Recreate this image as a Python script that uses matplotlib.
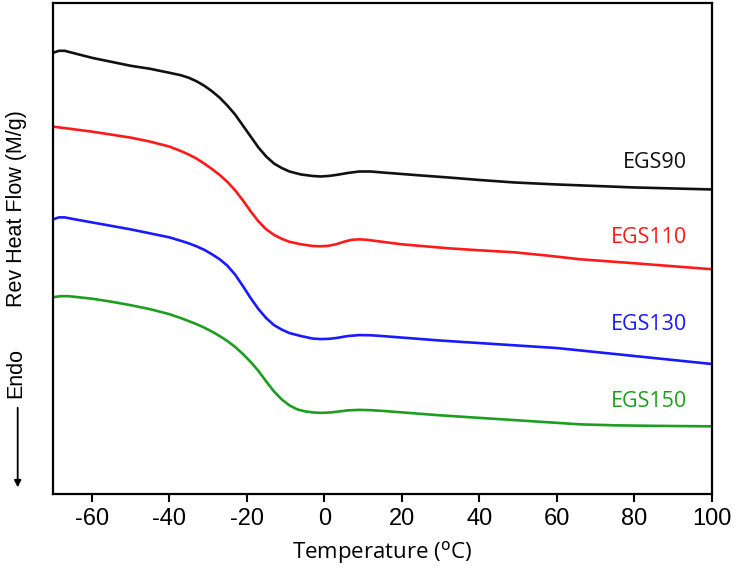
import numpy as np
import matplotlib.pyplot as plt

plt.rcParams['axes.unicode_minus'] = False

# temperature (C) and rev heat flow (arbitrary units, traces offset)
t_90 = [-70, -68.5, -67, -65, -60, -55, -50, -45, -40, -37, -35, -33, -31, -29, -27, -25, -23, -21, -19, -17,
        -15, -13, -11, -9, -6, -3, -1, 1, 3, 6, 9, 12, 15, 20, 25, 32, 40, 49, 60, 70, 80, 90, 100]
hf_90 = [442, 444, 444, 442, 437, 433, 429, 426, 422, 419.5, 417, 413.5, 409, 403.5, 397, 389, 380, 369, 358, 347,
         338, 331, 326.5, 323, 320, 318.5, 318, 318.5, 319.5, 321.5, 323, 323, 322, 320.5, 319, 317, 314.5, 312, 310,
         308.5, 307, 306, 305]

t_110 = [-70, -65, -60, -55, -50, -45, -40, -37, -35, -33, -31, -29, -27, -25, -23, -21, -19, -17, -15, -13,
         -11, -9, -6, -3, -1, 1, 3, 5, 7, 9, 11, 14, 20, 26, 32, 40, 49, 58, 66, 80, 90, 100]
hf_110 = [368, 365.5, 363, 360, 357, 353, 348, 343.5, 340, 336, 331, 325.5, 319.5, 312.5, 304, 294, 283, 273, 265,
          259.5, 255.5, 252.5, 250, 248.3, 248, 248.5, 250, 252.5, 254.5, 255, 254.5, 253, 250, 248, 246, 244, 242,
          238.5, 235, 231, 228, 225]

t_130 = [-70, -68.5, -67, -65, -60, -55, -50, -45, -40, -37, -35, -33, -31, -29, -27, -25, -23, -21, -19, -17,
         -15, -13, -11, -9, -6, -3, -1, 1, 3, 6, 9, 12, 15, 20, 30, 40, 50, 60, 70, 80, 90, 100]
hf_130 = [275, 277, 277, 275.5, 272, 268.5, 265, 261, 257, 253.5, 251, 248, 244.5, 240, 235, 228.5, 219.5, 208, 196,
          185, 176, 169, 164.5, 161, 158, 155.5, 155, 155.2, 156, 158, 159, 158.8, 158, 156.5, 153.5, 151, 148.5,
          146, 142, 138, 134, 130]

t_150 = [-70, -68, -66, -60, -55, -50, -45, -40, -37, -35, -33, -31, -29, -27, -25, -23, -21, -19, -17, -15,
         -13, -11, -9, -7, -5, -3, -1, 1, 3, 6, 9, 12, 15, 20, 30, 40, 50, 60, 66, 75, 85, 100]
hf_150 = [197, 198, 198, 195.5, 192.5, 189, 185, 180, 176, 173, 170, 166.5, 162.5, 158, 153, 147, 140, 132, 123,
          112.5, 102.5, 94.5, 88.5, 84.5, 82.5, 81.5, 81, 81.3, 82, 83.5, 84, 83.7, 83, 81.5, 78.5, 76, 73.5, 71,
          69.5, 68.5, 68, 67.5]

names = ['EGS90', 'EGS110', 'EGS130', 'EGS150']
colors = ['#111111', '#ff1a1a', '#1a1aff', '#1e9e1e']
label_y = [332, 257, 170, 92]

fig = plt.figure(figsize=(7.37, 5.87), dpi=100)
ax = fig.add_axes([0.072, 0.159, 0.894, 0.836])

series = [(t_90, hf_90), (t_110, hf_110), (t_130, hf_130), (t_150, hf_150)]
for (t, hf), c in zip(series, colors):
    ax.plot(t, hf, color=c, lw=1.9, solid_joinstyle='round', solid_capstyle='round')

for name, c, ly in zip(names, colors, label_y):
    ax.text(93.5, ly, name, color=c, fontsize=15.5, family='Open Sans', ha='right', va='center')

ax.set_xlim(-70, 100)
ax.set_ylim(0, 492)
ax.set_xticks(np.arange(-60, 101, 20))
ax.set_yticks([])
ax.tick_params(axis='x', direction='out', length=6, width=1.5, labelsize=17, pad=4)
for lab in ax.get_xticklabels():
    lab.set_family('Liberation Sans')
for s in ax.spines.values():
    s.set_linewidth(1.6)

ax.set_xlabel('Temperature ($^{\\mathrm{o}}$C)', fontsize=16, family='Open Sans', labelpad=7)

fig.text(0.022, 0.645, 'Rev Heat Flow (M/g)', rotation=90, fontsize=15.5, family='Liberation Sans',
         ha='center', va='center')
fig.text(0.022, 0.365, 'Endo', rotation=90, fontsize=15.5, family='Liberation Sans',
         ha='center', va='center')
fig.patches.append(plt.matplotlib.patches.FancyArrowPatch(
    (0.024, 0.31), (0.024, 0.165), transform=fig.transFigure,
    arrowstyle='-|>', mutation_scale=10, lw=1.3, color='black'))

fig.savefig('out.png', dpi=100)
